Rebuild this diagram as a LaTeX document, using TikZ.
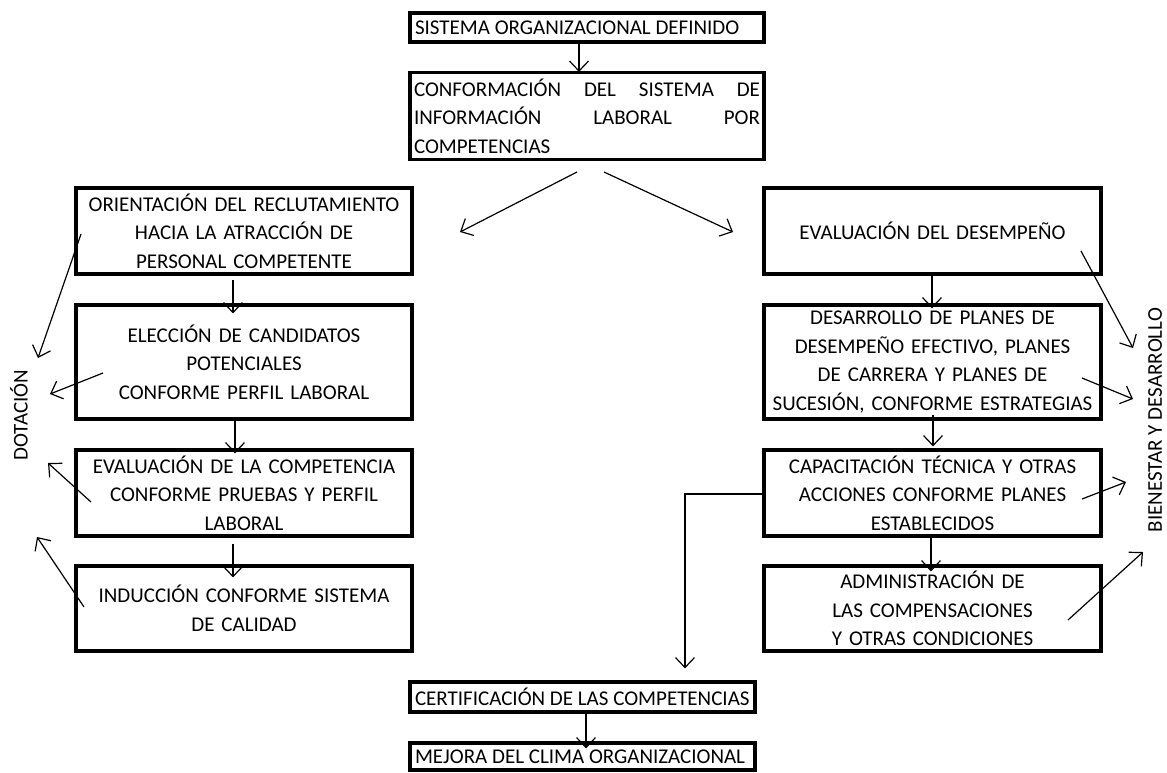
\documentclass[tikz,border=0pt]{standalone}
\usepackage{fontspec}
\setmainfont{Carlito}
\usetikzlibrary{arrows.meta}
\newcommand{\spreadline}[1]{\leavevmode\hbox to 346pt{#1}}
\begin{document}
\begin{tikzpicture}[x=1pt,y=-1pt,
  txt/.style={font=\fontsize{21}{28.5}\selectfont},
  box/.style={txt,draw,line width=3.2pt,inner sep=0pt,align=center},
  arr/.style={line width=1.2pt,-{Straight Barb[length=10pt,width=19pt,line width=1.2pt]}}]
\useasboundingbox[fill=white] (0,0) rectangle (1167,772);

% central column
\node[box,minimum width=354pt,minimum height=29pt,inner xsep=5pt] (top) at (587,27.5) {\makebox[344pt][l]{SISTEMA ORGANIZACIONAL DEFINIDO}};
\node[box,minimum width=354pt,minimum height=87pt,text width=346pt,align=left] (conf) at (587,116) {\spreadline{CONFORMACIÓN\hfill DEL\hfill SISTEMA\hfill DE}\\\spreadline{INFORMACIÓN\hfill LABORAL\hfill POR}\\COMPETENCIAS};

% left column
\node[box,minimum width=336pt,minimum height=86pt,text width=330pt] (L1) at (244,231) {ORIENTACIÓN DEL RECLUTAMIENTO\\HACIA LA ATRACCIÓN DE\\PERSONAL COMPETENTE};
\node[box,minimum width=336pt,minimum height=114pt,text width=330pt] (L2) at (244,362) {ELECCIÓN DE CANDIDATOS\\POTENCIALES\\CONFORME PERFIL LABORAL};
\node[box,minimum width=336pt,minimum height=86pt,text width=330pt] (L3) at (244,493) {EVALUACIÓN DE LA COMPETENCIA\\CONFORME PRUEBAS Y PERFIL\\LABORAL};
\node[box,minimum width=336pt,minimum height=85pt,text width=330pt] (L4) at (244,608.5) {INDUCCIÓN CONFORME SISTEMA\\DE CALIDAD};

% right column
\node[box,minimum width=337pt,minimum height=86pt,text width=331pt] (R1) at (932.5,231) {EVALUACIÓN DEL DESEMPEÑO};
\node[box,minimum width=337pt,minimum height=114pt,text width=331pt] (R2) at (932.5,362) {DESARROLLO DE PLANES DE\\DESEMPEÑO EFECTIVO, PLANES\\DE CARRERA Y PLANES DE\\SUCESIÓN, CONFORME ESTRATEGIAS};
\node[box,minimum width=337pt,minimum height=86pt,text width=331pt] (R3) at (932.5,493) {CAPACITACIÓN TÉCNICA Y OTRAS\\ACCIONES CONFORME PLANES\\ESTABLECIDOS};
\node[box,minimum width=337pt,minimum height=85pt,text width=331pt] (R4) at (932.5,608.5) {ADMINISTRACIÓN DE\\LAS COMPENSACIONES\\Y OTRAS CONDICIONES};

% bottom boxes
\node[box,minimum width=345pt,minimum height=30pt,inner xsep=5pt] (cert) at (582.5,697) {\makebox[335pt][l]{CERTIFICACIÓN DE LAS COMPETENCIAS}};
\node[box,minimum width=345pt,minimum height=27pt,inner xsep=5pt] (mej) at (582.5,756.5) {\makebox[335pt][l]{MEJORA DEL CLIMA ORGANIZACIONAL}};

% side labels
\node[txt,rotate=90] (dot) at (19,415) {DOTACIÓN};
\node[txt,rotate=90] (bien) at (1155,420) {BIENESTAR Y DESARROLLO};

% vertical flow arrows
\draw[arr] (top.south -| 579,0) -- ([yshift=-1pt]conf.north -| 579,0);
\draw[arr] ([yshift=-4pt]L1.south -| 233,0) -- ([yshift=-10pt]L2.north -| 233,0);
\draw[arr] ([yshift=2pt]L2.south -| 235,0) -- ([yshift=-5pt]L3.north -| 235,0);
\draw[arr] ([yshift=-6pt]L3.south -| 233,0) -- ([yshift=-13pt]L4.north -| 233,0);
\draw[arr] (R1.south -| 932,0) -- ([yshift=-5pt]R2.north -| 932,0);
\draw[arr] ([yshift=6pt]R2.south -| 933,0) -- ([yshift=2pt]R3.north -| 933,0);
\draw[arr] (R3.south -| 931,0) -- ([yshift=-7pt]R4.north -| 931,0);
\draw[arr] (cert.south -| 586,0) -- ([yshift=-7pt]mej.north -| 586,0);

% branching from the information system
\coordinate (bl) at (577,172);
\coordinate (br) at (604,172);
\coordinate (tl) at (460,232);
\coordinate (tr) at (733,232);
\draw[arr] (bl) -- (tl);
\draw[arr] (br) -- (tr);

% link from training to certification
\coordinate (kc) at (685,494);
\draw[arr] (R3.west |- kc) -- (kc) -- ([yshift=12pt]cert.north -| kc);

% arrows towards DOTACIÓN
\coordinate (d1s) at (81,234);   \coordinate (d1e) at (38,358);
\coordinate (d2s) at (103,373);  \coordinate (d2e) at (50,394);
\coordinate (d3s) at (91,502);   \coordinate (d3e) at (48,463);
\coordinate (d4s) at (84,607);   \coordinate (d4e) at (37,537);
\draw[arr] (d1s) -- (d1e);
\draw[arr] (d2s) -- (d2e);
\draw[arr] (d3s) -- (d3e);
\draw[arr] (d4s) -- (d4e);

% arrows towards BIENESTAR Y DESARROLLO
\coordinate (b1s) at (1081,251);  \coordinate (b1e) at (1133,348);
\coordinate (b2s) at (1082,378);  \coordinate (b2e) at (1133,399);
\coordinate (b3s) at (1082,499);  \coordinate (b3e) at (1126,482);
\coordinate (b4s) at (1068,620);  \coordinate (b4e) at (1143,552);
\draw[arr] (b1s) -- (b1e);
\draw[arr] (b2s) -- (b2e);
\draw[arr] (b3s) -- (b3e);
\draw[arr] (b4s) -- (b4e);
\end{tikzpicture}
\end{document}
